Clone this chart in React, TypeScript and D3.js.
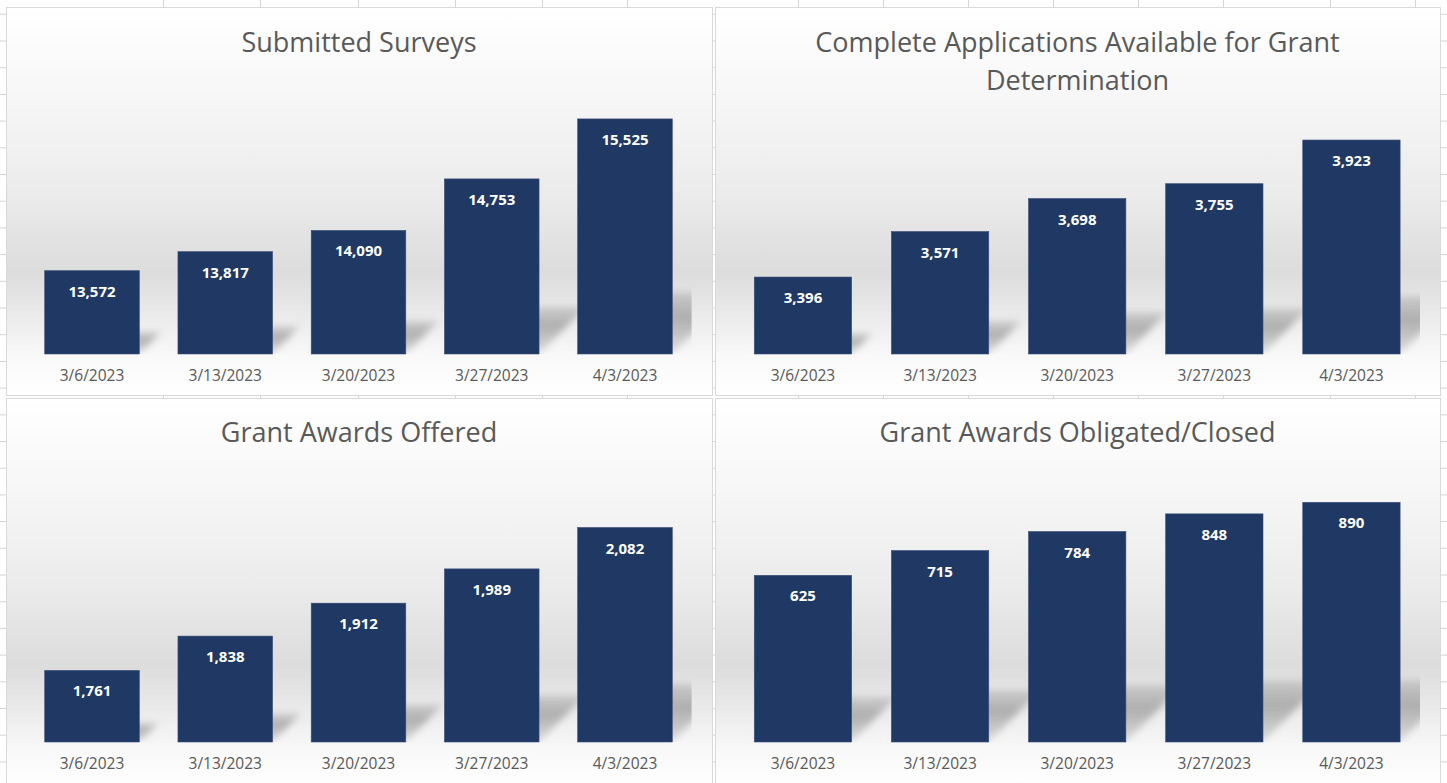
import React from "react";
import * as d3 from "d3";

const categories = ["3/6/2023", "3/13/2023", "3/20/2023", "3/27/2023", "4/3/2023"];
const submittedSurveys = [13572, 13817, 14090, 14753, 15525];
const completeApplications = [3396, 3571, 3698, 3755, 3923];
const awardsOffered = [1761, 1838, 1912, 1989, 2082];
const awardsObligated = [625, 715, 784, 848, 890];

const titleSurveys = ["Submitted Surveys"];
const titleApplications = ["Complete Applications Available for Grant", "Determination"];
const titleOffered = ["Grant Awards Offered"];
const titleObligated = ["Grant Awards Obligated/Closed"];

const axisSurveys = [12500, 16000];
const axisApplications = [3100, 4100];
const axisOffered = [1600, 2200];
const axisObligated = [20, 1000];

const W = 1447;
const H = 783;
const FONT = "'Open Sans', 'Noto Sans', sans-serif";
const BAR = "#203864";
const TEXT = "#595959";

type PanelDef = {
  id: string;
  x: number; y: number; w: number; h: number;
  plotX0: number; plotX1: number; plotTop: number; baseline: number;
  titleY: number;
  titles: string[];
  values: number[];
  domain: number[];
};

const panels: PanelDef[] = [
  { id: "p1", x: 6, y: 7, w: 706, h: 388, plotX0: 25.4, plotX1: 691.6, plotTop: 82, baseline: 354, titleY: 52, titles: titleSurveys, values: submittedSurveys, domain: axisSurveys },
  { id: "p2", x: 715, y: 7, w: 725, h: 388, plotX0: 734.4, plotX1: 1420, plotTop: 94, baseline: 354, titleY: 52, titles: titleApplications, values: completeApplications, domain: axisApplications },
  { id: "p3", x: 6, y: 398, w: 706, h: 392, plotX0: 25.4, plotX1: 691.6, plotTop: 475, baseline: 742, titleY: 442, titles: titleOffered, values: awardsOffered, domain: axisOffered },
  { id: "p4", x: 715, y: 398, w: 725, h: 392, plotX0: 734.4, plotX1: 1420, plotTop: 472, baseline: 742, titleY: 442, titles: titleObligated, values: awardsObligated, domain: axisObligated },
];

const colLines = [163, 260, 358, 455, 542, 627, 798, 883, 968, 1053, 1138, 1223, 1330, 1415];

function Panel({ p }: { p: PanelDef }) {
  const x = d3.scaleBand<string>().domain(categories).range([p.plotX0, p.plotX1]).paddingInner(0.29).paddingOuter(0.145);
  const y = d3.scaleLinear().domain(p.domain).range([p.baseline, p.plotTop]);
  const fmt = d3.format(",");
  const cx = p.x + p.w / 2;
  return (
    <g>
      <rect x={p.x + 0.5} y={p.y + 0.5} width={p.w} height={p.h} fill="url(#bgGrad)" stroke="#d9d9d9" strokeWidth={1} />
      <clipPath id={`clip-${p.id}`}>
        <rect x={p.plotX0} y={p.plotTop - 40} width={p.plotX1 - p.plotX0} height={p.baseline - p.plotTop + 40} />
      </clipPath>
      <g clipPath={`url(#clip-${p.id})`}>
        {p.values.map((v, i) => {
          const x0 = x(categories[i])!;
          const x1 = x0 + x.bandwidth();
          const bh = p.baseline - y(v);
          const sh = Math.min(bh * 0.27, 62);
          const dx = sh * 1.0;
          const pts = [
            [x0, p.baseline], [x1, p.baseline], [x1 + dx, p.baseline - sh], [x0 + dx, p.baseline - sh],
          ].map((q) => q.join(",")).join(" ");
          return <polygon key={i} points={pts} fill="url(#shGrad)" filter="url(#blur)" />;
        })}
      </g>
      {p.values.map((v, i) => {
        const x0 = x(categories[i])!;
        return (
          <g key={i}>
            <rect x={x0} y={y(v)} width={x.bandwidth()} height={p.baseline - y(v)} fill={BAR} stroke="#3a4d78" strokeWidth={0.6} />
            <text x={x0 + x.bandwidth() / 2} y={y(v) + 26} textAnchor="middle" fill="#ffffff" fontFamily={FONT} fontWeight={700} fontSize={15}>
              {fmt(v)}
            </text>
            <text x={x0 + x.bandwidth() / 2} y={p.baseline + 27} textAnchor="middle" fill={TEXT} fontFamily={FONT} fontSize={15.5}>
              {categories[i]}
            </text>
          </g>
        );
      })}
      {p.titles.map((t, i) => (
        <text key={i} x={cx} y={p.titleY + i * 38} textAnchor="middle" fill={TEXT} fontFamily={FONT} fontSize={27}>
          {t}
        </text>
      ))}
    </g>
  );
}

export default function App() {
  const rows = d3.range(14.3, H, 26.7);
  return (
    <svg width={W} height={H} style={{ position: "absolute", left: 0, top: 0, background: "#ffffff" }}>
      <defs>
        <linearGradient id="bgGrad" x1="0" y1="0" x2="0" y2="1">
          <stop offset="0" stopColor="#ffffff" />
          <stop offset="0.25" stopColor="#f6f6f6" />
          <stop offset="0.5" stopColor="#eaeaea" />
          <stop offset="0.68" stopColor="#dcdcdc" />
          <stop offset="0.8" stopColor="#ebebeb" />
          <stop offset="0.9" stopColor="#f9f9f9" />
          <stop offset="1" stopColor="#ffffff" />
        </linearGradient>
        <linearGradient id="shGrad" x1="0" y1="1" x2="0" y2="0">
          <stop offset="0" stopColor="#9a9a9a" stopOpacity="0.25" />
          <stop offset="0.6" stopColor="#9a9a9a" stopOpacity="0.75" />
          <stop offset="1" stopColor="#9a9a9a" stopOpacity="0.35" />
        </linearGradient>
        <filter id="blur" x="-30%" y="-30%" width="160%" height="160%">
          <feGaussianBlur stdDeviation="3.5" />
        </filter>
      </defs>
      <rect x={0} y={0} width={W} height={H} fill="#ffffff" />
      {colLines.map((c, i) => (
        <line key={`c${i}`} x1={c + 0.5} x2={c + 0.5} y1={0} y2={H} stroke="#d4d4d4" strokeWidth={1} />
      ))}
      {rows.map((r, i) => (
        <line key={`r${i}`} x1={0} x2={W} y1={r} y2={r} stroke="#d4d4d4" strokeWidth={1} />
      ))}
      {panels.map((p) => (
        <Panel key={p.id} p={p} />
      ))}
    </svg>
  );
}
